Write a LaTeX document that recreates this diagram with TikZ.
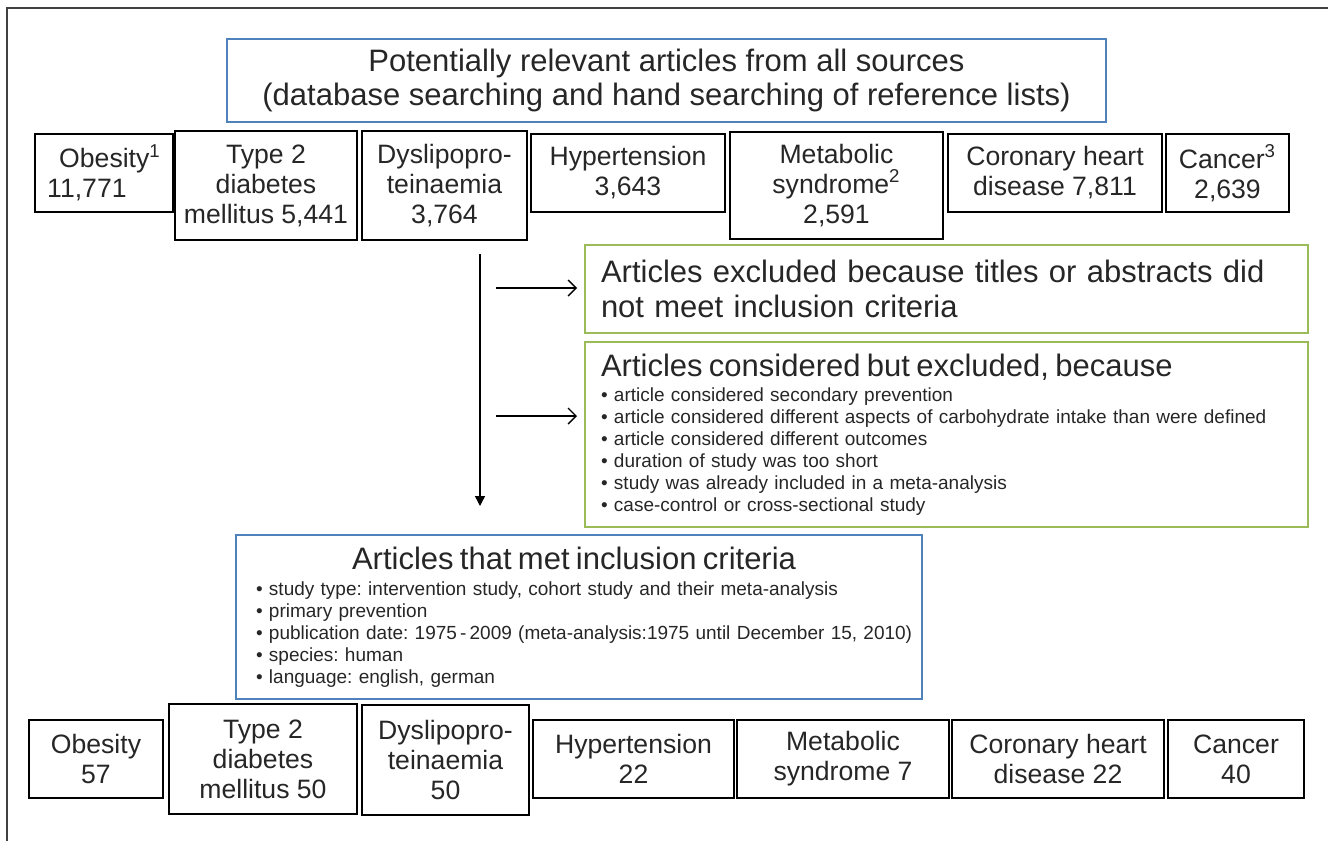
\documentclass[tikz,border=0pt]{standalone}
\usepackage{fontspec}
\setmainfont{Liberation Sans}
\usetikzlibrary{arrows.meta}
\frenchspacing

\definecolor{frameblue}{RGB}{79,129,189}
\definecolor{framegreen}{RGB}{155,187,89}
\definecolor{framegray}{RGB}{64,64,64}
\definecolor{inkgray}{RGB}{38,38,38}

\newcommand{\headfont}{\fontsize{15.5}{17.5}\selectfont}
\newcommand{\listfont}{\fontsize{9.5}{11}\selectfont}

\tikzset{
  catbox/.style={draw=black, line width=1.1pt, inner sep=0pt, align=center,
                 text=inkgray, font=\fontsize{13.3}{15}\selectfont},
  bluebox/.style={draw=frameblue, line width=1pt, text=inkgray},
  greenbox/.style={draw=framegreen, line width=1pt, text=inkgray, anchor=north west,
                   inner xsep=8pt, inner ysep=0pt, align=left},
  flowarrow/.style={line width=0.7pt, -{Triangle[length=5pt,width=5pt]}},
  sidearrow/.style={line width=0.7pt, -{Straight Barb[length=4pt,width=8pt]}, shorten >=3.5pt}
}

\begin{document}
\begin{tikzpicture}[x=0.5pt, y=-0.5pt]
        \useasboundingbox (0,0) rectangle (1328,841);
        \draw [line width=1pt, framegray] (1328,8) -- (7,8) -- (7,841);           %frame
        \node [bluebox, inner sep=0pt, minimum width=439.5pt, minimum height=41.5pt, align=center,
               font=\fontsize{15.5}{17}\selectfont] (sources) at (666.5,80.5)
              {Potentially relevant articles from all sources\\(database searching and hand searching of reference lists)};
        % found per topic
        \node [catbox, align=left, minimum width=69pt, minimum height=39pt] (obtop) at (104,173) {\hspace*{6pt}Obesity\textsuperscript{1}\\11,771};
        \node [catbox, minimum width=91pt, minimum height=54.5pt]   (t2dtop) at (266,185.5)  {Type 2\\diabetes\\mellitus 5,441};
        \node [catbox, minimum width=82.5pt, minimum height=54.5pt] (dystop) at (444.5,185.5) {Dyslipopro-\\teinaemia\\3,764};
        \node [catbox, minimum width=97pt, minimum height=39pt]     (hyptop) at (628,173)    {Hypertension\\3,643};
        \node [catbox, minimum width=106.5pt, minimum height=53.5pt] (mettop) at (836.5,185.5) {Metabolic\\syndrome\textsuperscript{2}\\2,591};
        \node [catbox, minimum width=107pt, minimum height=39pt]    (chdtop) at (1055,173)   {Coronary heart\\disease 7,811};
        \node [catbox, minimum width=61.5pt, minimum height=39pt]   (cantop) at (1227.5,173) {Cancer\textsuperscript{3}\\2,639};
        % exclusions
        \node [greenbox, text width=345.5pt, minimum height=44pt, font=\headfont] (excl) at (584,244)
              {Articles excluded because titles or abstracts did\\not meet inclusion criteria};
        \node [greenbox, text width=345.5pt, minimum height=92.5pt, font=\listfont] (cons) at (584,341)
              {{\headfont Articles considered but excluded, because}\\[1.5pt]
               • article considered secondary prevention\\
               • article considered different aspects of carbohydrate intake than were defined\\
               • article considered different outcomes\\
               • duration of study was too short\\
               • study was already included in a meta-analysis\\
               • case-control or cross-sectional study};
        \coordinate (flowtop) at (480,254);
        \coordinate (flowend) at (480,506);
        \coordinate (exA) at (496,288);
        \coordinate (exB) at (496,416);
        \draw [flowarrow] (flowtop) -- (flowend);                                %
        \draw [sidearrow] (exA) -- (exA -| excl.west);                           %
        \draw [sidearrow] (exB) -- (exB -| cons.west);                           %
        % included
        \node [bluebox, anchor=north west, inner xsep=10pt, inner ysep=0pt, text width=323pt,
               minimum height=82pt, align=left, font=\listfont] (incl) at (235,534)
              {\makebox[318pt][c]{\headfont Articles that met inclusion criteria}\\[2pt]
               • study type: intervention study, cohort study and their meta-analysis\\
               • primary prevention\\
               \mbox{• publication date: 1975\,-\,2009 (meta-analysis:1975 until December 15, 2010)}\\
               • species: human\\
               • language: english, german};
        % included per topic
        \node [catbox, minimum width=67pt, minimum height=39pt]     (obbot)  at (96,759)     {Obesity\\57};
        \node [catbox, minimum width=94pt, minimum height=55pt]     (t2dbot) at (263,759)    {Type 2\\diabetes\\mellitus 50};
        \node [catbox, minimum width=83.5pt, minimum height=55pt]   (dysbot) at (445.5,760)  {Dyslipopro-\\teinaemia\\50};
        \node [catbox, minimum width=100.5pt, minimum height=39pt]  (hypbot) at (633.5,759)  {Hypertension\\22};
        \node [catbox, minimum width=106pt, minimum height=39pt]    (metbot) at (843,759)    {Metabolic\\syndrome 7};
        \node [catbox, minimum width=106pt, minimum height=39pt]    (chdbot) at (1058,759)   {Coronary heart\\disease 22};
        \node [catbox, minimum width=68pt, minimum height=39pt]     (canbot) at (1236,759)   {Cancer\\40};
\end{tikzpicture}
\end{document}
